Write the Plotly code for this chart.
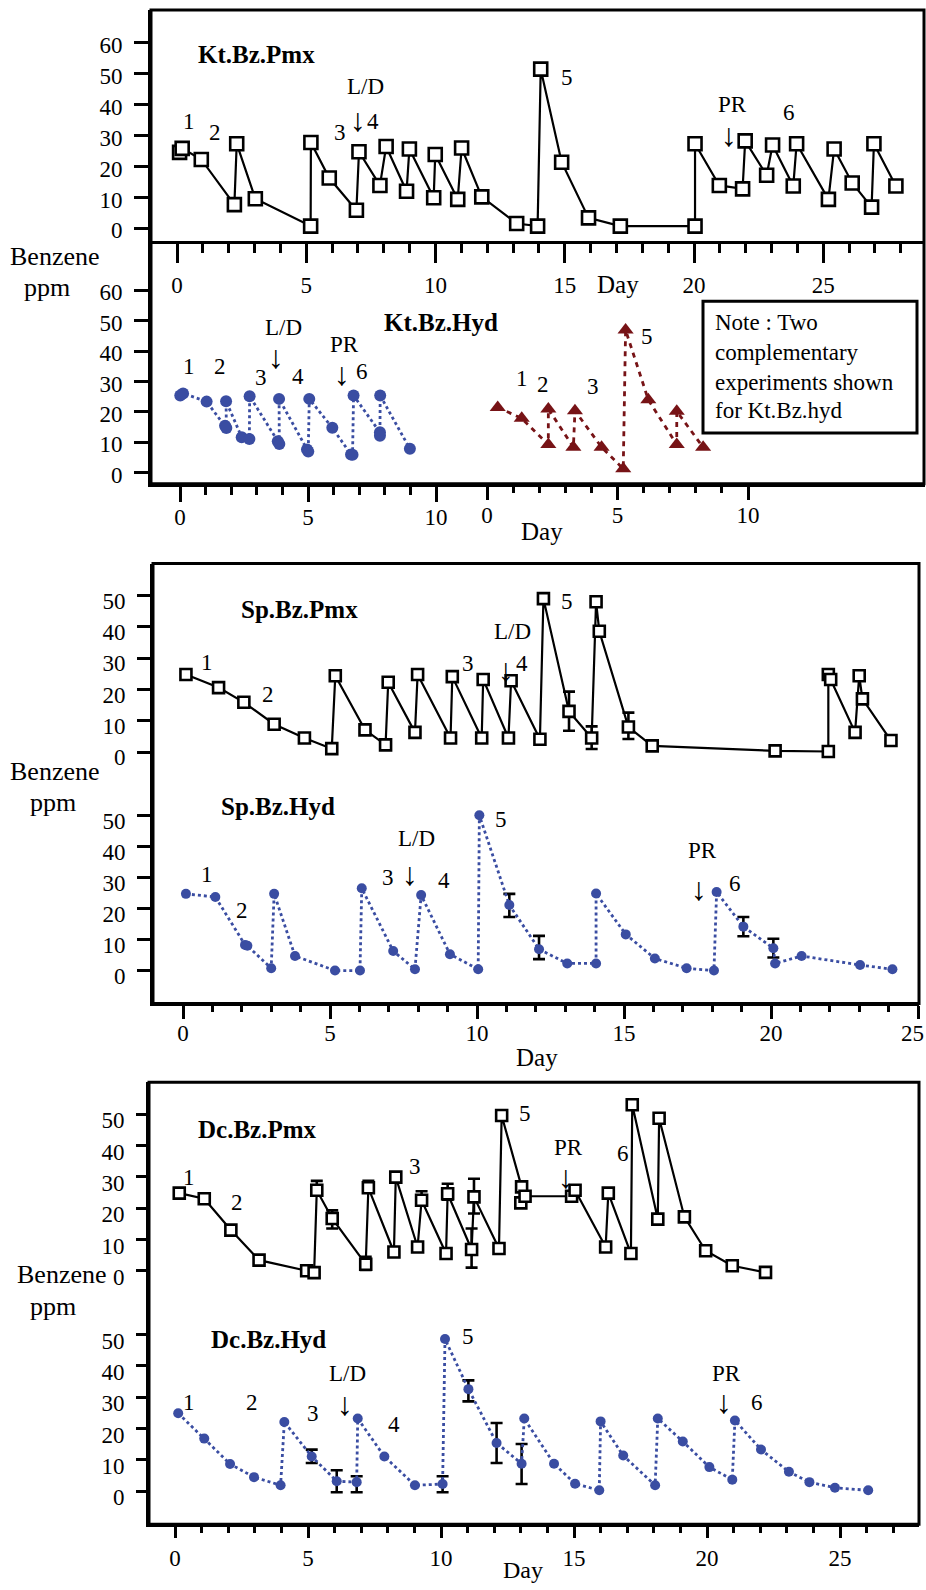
import plotly.graph_objects as go

# ---------------- data ----------------
kt_pmx_day = [0.1, 0.2, 0.94, 2.22, 2.31, 3.03, 5.17, 5.18, 5.89, 6.94, 7.04, 7.85, 8.09, 8.88, 8.99, 9.93, 9.99,
              10.86, 11.01, 11.79, 13.14, 13.95, 14.07, 14.88, 15.92, 17.15, 20.04, 20.04, 20.98, 21.88, 21.98,
              22.81, 23.04, 23.84, 23.97, 25.2, 25.42, 26.12, 26.87, 26.96, 27.81]
kt_pmx_ppm = [24.6, 25.9, 22.3, 7.7, 27.4, 9.6, 0.75, 27.8, 16.3, 5.9, 24.8, 13.9, 26.5, 12.0, 25.7, 9.9, 23.9,
              9.4, 26.0, 10.2, 1.6, 0.75, 51.5, 21.4, 3.4, 0.75, 0.75, 27.4, 13.9, 12.8, 28.3,
              17.2, 27.0, 13.7, 27.4, 9.4, 25.7, 14.7, 6.9, 27.4, 13.7]

kt_hyd_a_day = [0.01, 0.12, 1.04, 1.76, 1.81, 1.8, 2.41, 2.71, 2.72, 3.82, 3.88, 3.87, 4.96, 5.01, 5.05, 5.95,
                6.68, 6.74, 6.78, 7.81, 7.81, 7.82, 8.98]
kt_hyd_a_ppm = [25.4, 26.1, 23.4, 15.5, 14.7, 23.5, 11.7, 11.1, 25.2, 10.4, 9.5, 24.3, 7.7, 7.0, 24.3, 14.8,
                6.0, 5.9, 25.4, 13.3, 12.2, 25.4, 7.9]

kt_hyd_b_day = [0.41, 1.33, 2.35, 2.35, 3.31, 3.37, 4.39, 5.22, 5.31, 6.18, 7.27, 7.27, 8.28]
kt_hyd_b_ppm = [21.5, 17.9, 9.3, 21.0, 8.4, 20.4, 8.4, 1.3, 46.9, 24.0, 9.3, 20.2, 8.4]

sp_pmx_day = [0.10, 1.21, 2.07, 3.10, 4.13, 5.06, 5.18, 6.19, 6.89, 6.98, 7.89, 7.98, 9.10, 9.16, 10.16, 10.21,
              11.07, 11.16, 12.14, 12.26, 13.13, 13.90, 14.05, 14.16, 15.15, 15.96, 20.14, 21.95, 21.95, 22.03,
              22.86, 23.00, 23.11, 24.08]
sp_pmx_ppm = [24.8, 20.6, 15.9, 8.9, 4.5, 1.1, 24.4, 7.1, 2.3, 22.3, 6.3, 24.8, 4.5, 24.1, 4.5, 23.2,
              4.5, 22.8, 4.1, 49.0, 13.0, 4.5, 48.0, 38.6, 8.0, 2.0, 0.4, 0.2, 24.8, 23.2,
              6.3, 24.4, 17.0, 3.7]
sp_pmx_err_day = [13.13, 13.90, 15.15]
sp_pmx_err_val = [13.0, 4.5, 8.0]
sp_pmx_err_hi = [19.3, 8.2, 12.6]
sp_pmx_err_lo = [6.8, 1.0, 4.2]

sp_hyd_day = [0.10, 1.10, 2.11, 2.19, 3.00, 3.10, 3.81, 5.17, 6.02, 6.08, 7.15, 7.89, 8.10, 9.08, 10.04, 10.08,
              11.10, 12.11, 13.07, 14.05, 14.05, 15.06, 16.05, 17.13, 18.06, 18.15, 19.06, 20.08, 20.14, 21.04,
              23.03, 24.13]
sp_hyd_ppm = [24.8, 23.8, 8.3, 8.0, 0.75, 24.8, 4.7, 0.0, 0.0, 26.6, 6.3, 0.4, 24.4, 5.3, 0.4, 50.2,
              21.2, 6.9, 2.3, 2.3, 24.9, 11.7, 3.9, 0.75, 0.0, 25.4, 14.2, 7.2, 2.3, 4.7,
              1.8, 0.4]
sp_hyd_err_day = [11.10, 12.11, 19.06, 20.08]
sp_hyd_err_val = [21.2, 6.9, 14.2, 7.2]
sp_hyd_err_hi = [24.8, 11.2, 17.3, 10.3]
sp_hyd_err_lo = [17.3, 3.7, 11.1, 4.2]

dc_pmx_day = [0.16, 1.10, 2.10, 3.16, 4.95, 5.23, 5.33, 5.91, 7.17, 7.27, 8.23, 8.30, 9.12, 9.27, 10.19, 10.25,
              11.15, 11.24, 12.18, 12.28, 13.03, 13.00, 13.16, 14.91, 15.04, 16.19, 16.29, 17.14, 17.19, 18.15,
              18.20, 19.15, 19.95, 20.95, 22.20]
dc_pmx_ppm = [24.8, 23.0, 13.0, 3.4, 0.0, -0.6, 25.7, 16.7, 2.1, 26.5, 6.0, 29.9, 7.6, 22.5, 5.5, 24.6,
              6.8, 23.6, 7.1, 49.6, 26.8, 21.7, 23.8, 23.8, 25.7, 7.6, 24.8, 5.5, 53.0, 16.5,
              48.7, 17.2, 6.4, 1.6, -0.5]
dc_pmx_err_day = [5.33, 5.91, 7.17, 7.27, 9.27, 10.25, 11.15, 11.24]
dc_pmx_err_val = [25.7, 16.7, 2.1, 26.5, 22.5, 24.6, 6.8, 23.6]
dc_pmx_err_hi = [28.7, 19.3, 4.5, 28.7, 25.4, 27.8, 13.5, 29.4]
dc_pmx_err_lo = [24.0, 13.5, 0.3, 25.2, 21.0, 22.7, 1.0, 18.3]

dc_hyd_day = [0.12, 1.10, 2.07, 2.97, 3.97, 4.11, 5.14, 6.08, 6.83, 6.87, 7.87, 9.02, 10.06, 10.15, 11.03,
              12.09, 13.03, 13.13, 14.25, 15.04, 15.95, 16.00, 16.85, 18.05, 18.15, 19.09, 20.09, 20.95, 21.05,
              22.03, 23.08, 23.85, 24.81, 26.06]
dc_hyd_ppm = [24.9, 16.8, 8.7, 4.5, 1.9, 22.1, 11.1, 3.2, 2.9, 23.2, 11.1, 1.9, 2.3, 48.6, 32.6,
              15.4, 8.8, 23.2, 8.8, 2.4, 0.3, 22.3, 11.4, 1.9, 23.2, 15.9, 7.7, 3.7, 22.6,
              13.3, 6.2, 2.9, 1.1, 0.3]
dc_hyd_err_day = [5.14, 6.08, 6.83, 10.06, 11.03, 12.09, 13.03]
dc_hyd_err_val = [11.1, 3.2, 2.9, 2.3, 32.6, 15.4, 8.8]
dc_hyd_err_hi = [13.3, 6.7, 4.8, 4.8, 35.4, 21.8, 15.1]
dc_hyd_err_lo = [9.0, -0.3, -0.3, -0.3, 28.7, 9.0, 2.3]

# ---------------- layout helpers ----------------
W, H = 926, 1590
FONT = "Liberation Serif, Times New Roman, serif"
BLUE = "#3a4da2"
DRED = "#771316"


def X(px):
    return px / W


def Y(py):
    return 1 - py / H


fig = go.Figure()


def pmx_trace(days, vals, xa, ya, size):
    fig.add_trace(go.Scatter(
        x=days, y=vals, xaxis=xa, yaxis=ya, mode="lines+markers",
        line=dict(color="black", width=2.2),
        marker=dict(symbol="square", size=size, color="white", line=dict(color="black", width=2.6)),
        showlegend=False, cliponaxis=False))


def hyd_trace(days, vals, xa, ya, size, color=BLUE, symbol="circle", dash="dot"):
    fig.add_trace(go.Scatter(
        x=days, y=vals, xaxis=xa, yaxis=ya, mode="lines+markers",
        line=dict(color=color, width=2.8, dash=dash),
        marker=dict(symbol=symbol, size=size, color=color),
        showlegend=False, cliponaxis=False))


def err_trace(days, vals, hi, lo, xa, ya):
    fig.add_trace(go.Scatter(
        x=days, y=vals, xaxis=xa, yaxis=ya, mode="markers",
        marker=dict(size=1, color="rgba(0,0,0,0)"),
        error_y=dict(type="data", symmetric=False,
                     array=[h - v for h, v in zip(hi, vals)],
                     arrayminus=[v - l for v, l in zip(vals, lo)],
                     color="black", thickness=2.6, width=6),
        showlegend=False, cliponaxis=False))


# Panel 1
pmx_trace(kt_pmx_day, kt_pmx_ppm, "x", "y", 13)
hyd_trace(kt_hyd_a_day, kt_hyd_a_ppm, "x2", "y2", 12)
hyd_trace(kt_hyd_b_day, kt_hyd_b_ppm, "x3", "y2", 14, color=DRED, symbol="triangle-up", dash="5px,5px")
# Panel 2
err_trace(sp_pmx_err_day, sp_pmx_err_val, sp_pmx_err_hi, sp_pmx_err_lo, "x4", "y4")
pmx_trace(sp_pmx_day, sp_pmx_ppm, "x4", "y4", 11)
err_trace(sp_hyd_err_day, sp_hyd_err_val, sp_hyd_err_hi, sp_hyd_err_lo, "x4", "y5")
hyd_trace(sp_hyd_day, sp_hyd_ppm, "x4", "y5", 10)
# Panel 3
err_trace(dc_pmx_err_day, dc_pmx_err_val, dc_pmx_err_hi, dc_pmx_err_lo, "x5", "y6")
pmx_trace(dc_pmx_day, dc_pmx_ppm, "x5", "y6", 11)
err_trace(dc_hyd_err_day, dc_hyd_err_val, dc_hyd_err_hi, dc_hyd_err_lo, "x5", "y7")
hyd_trace(dc_hyd_day, dc_hyd_ppm, "x5", "y7", 10)

tickfont = dict(family=FONT, size=23, color="black")


def xax(domain, rng, anchor, major, minor, tlen, mlen, standoff, showline=True, overlaying=None):
    d = dict(domain=domain, range=rng, anchor=anchor, showgrid=False, zeroline=False,
             showline=showline, linecolor="black", linewidth=3,
             ticks="outside", ticklen=tlen, tickwidth=3, tickcolor="black",
             tickmode="array", tickvals=major, ticktext=[str(v) for v in major],
             tickfont=tickfont, ticklabelstandoff=standoff,
             minor=dict(tickmode="array", tickvals=minor, ticks="outside", ticklen=mlen,
                        tickwidth=3, tickcolor="black", showgrid=False),
             fixedrange=True)
    if overlaying:
        d["overlaying"] = overlaying
    return d


def yax(domain, rng, anchor, vals, tlen=13, shift=0):
    return dict(domain=domain, range=rng, anchor=anchor, showgrid=False, zeroline=False,
                showline=True, linecolor="black", linewidth=3,
                ticks="outside", ticklen=tlen, tickwidth=3, tickcolor="black",
                tickmode="array", tickvals=vals, ticktext=[str(v) for v in vals],
                tickfont=tickfont, ticklabelstandoff=7, ticklabelshift=shift, fixedrange=True)


fig.update_layout(
    xaxis=xax([X(151), X(924)], [(151 - 177) / 25.85, (924 - 177) / 25.85], "y",
              [0, 5, 10, 15, 20, 25], list(range(0, 29)), 19, 9, 2),
    yaxis=yax([Y(242), Y(10)], [-(242 - 229) / 3.1, (229 - 10) / 3.1], "x", [0, 10, 20, 30, 40, 50, 60], 14, 2),
    xaxis2=xax([X(151), X(925)], [(151 - 180) / 25.6, (925 - 180) / 25.6], "y2",
               [0, 5, 10], list(range(0, 11)), 15, 8, -4),
    xaxis3=xax([X(151), X(925)], [(151 - 487) / 26.1, (925 - 487) / 26.1], "y2",
               [0, 5, 10], list(range(0, 11)), 15, 8, -4, showline=False, overlaying="x2"),
    yaxis2=yax([Y(485), Y(242)], [-(485 - 474) / 3.05, (474 - 242) / 3.05], "x2", [0, 10, 20, 30, 40, 50, 60], 14, 2),
    xaxis4=xax([X(153), X(919)], [(153 - 183) / 29.4, (919 - 183) / 29.4], "y5",
               [0, 5, 10, 15, 20, 25], list(range(0, 26)), 13, 6, -6),
    yaxis4=yax([Y(785), Y(565)], [-(785 - 754) / 3.14, (754 - 565) / 3.14], "x4", [0, 10, 20, 30, 40, 50], 13, 5),
    yaxis5=yax([Y(1006), Y(785)], [-(1006 - 973) / 3.1, (973 - 785) / 3.1], "x4", [0, 10, 20, 30, 40, 50], 13, 5),
    xaxis5=xax([X(149), X(919)], [(149 - 175) / 26.6, (919 - 175) / 26.6], "y7",
               [0, 5, 10, 15, 20, 25], list(range(0, 28)), 11, 6, 0),
    yaxis6=yax([Y(1300), Y(1085)], [-(1300 - 1274) / 3.14, (1274 - 1085) / 3.14], "x5", [0, 10, 20, 30, 40, 50], 10, 6),
    yaxis7=yax([Y(1528), Y(1300)], [-(1528 - 1495) / 3.14, (1495 - 1300) / 3.14], "x5", [0, 10, 20, 30, 40, 50], 10, 6),
)

# frames
frames = [(151, 10, 924, 485), (153, 565, 919, 1006), (149, 1085, 919, 1528), (703, 302, 917, 434)]
shapes = []
for (x0, y0, x1, y1) in frames:
    shapes.append(dict(type="rect", xref="paper", yref="paper", x0=X(x0), x1=X(x1), y0=Y(y0), y1=Y(y1),
                       line=dict(color="black", width=3), fillcolor="rgba(0,0,0,0)", layer="above"))

ARW = 32  # arrow glyph size
# text labels: (text, x_px, y_px, size, bold, anchor)
labels = [
    # panel 1
    ("Kt.Bz.Pmx", 256, 55, 25, True, "center"),
    ("1", 189, 122, 23, False, "center"), ("2", 215, 133, 23, False, "center"),
    ("3", 340, 133, 23, False, "center"), ("L/D", 365, 87, 23, False, "center"),
    ("↓", 358, 120, ARW, False, "center"), ("4", 373, 122, 23, False, "center"),
    ("5", 567, 78, 23, False, "center"),
    ("PR", 732, 105, 23, False, "center"), ("↓", 729, 135, ARW, False, "center"),
    ("6", 789, 113, 23, False, "center"),
    ("Benzene", 55, 257, 26, False, "center"), ("ppm", 47, 288, 26, False, "center"),
    ("Day", 618, 285, 25, False, "center"),
    ("Kt.Bz.Hyd", 441, 323, 25, True, "center"),
    ("1", 189, 367, 23, False, "center"), ("2", 220, 367, 23, False, "center"),
    ("L/D", 283, 328, 23, False, "center"), ("↓", 276, 358, ARW, False, "center"),
    ("3", 261, 378, 23, False, "center"), ("4", 298, 377, 23, False, "center"),
    ("PR", 344, 345, 23, False, "center"), ("↓", 342, 375, ARW, False, "center"),
    ("6", 362, 372, 23, False, "center"),
    ("1", 522, 379, 23, False, "center"), ("2", 543, 385, 23, False, "center"),
    ("3", 593, 387, 23, False, "center"), ("5", 647, 337, 23, False, "center"),
    ("Day", 542, 533, 25, False, "center"),
    ("Note : Two", 713, 323, 23, False, "left"), ("complementary", 713, 353, 23, False, "left"),
    ("experiments shown", 713, 383, 23, False, "left"), ("for Kt.Bz.hyd", 713, 412, 23, False, "left"),
    # panel 2
    ("Sp.Bz.Pmx", 299, 611, 25, True, "center"),
    ("1", 207, 664, 23, False, "center"), ("2", 268, 696, 23, False, "center"),
    ("3", 468, 665, 23, False, "center"), ("L/D", 512, 633, 23, False, "center"),
    ("↓", 506, 672, ARW, False, "center"), ("4", 522, 665, 23, False, "center"),
    ("5", 567, 603, 23, False, "center"),
    ("Benzene", 55, 773, 26, False, "center"), ("ppm", 53, 805, 26, False, "center"),
    ("Sp.Bz.Hyd", 278, 809, 25, True, "center"),
    ("1", 207, 877, 23, False, "center"), ("2", 242, 913, 23, False, "center"),
    ("L/D", 416, 841, 23, False, "center"), ("3", 388, 880, 23, False, "center"),
    ("↓", 410, 876, ARW, False, "center"), ("4", 444, 883, 23, False, "center"),
    ("5", 501, 822, 23, False, "center"), ("PR", 702, 853, 23, False, "center"),
    ("↓", 699, 891, ARW, False, "center"), ("6", 735, 886, 23, False, "center"),
    ("Day", 537, 1060, 25, False, "center"),
    ("25", 926, 1036, 23, False, "right"),
    # panel 3
    ("Dc.Bz.Pmx", 257, 1132, 25, True, "center"),
    ("1", 189, 1180, 23, False, "center"), ("2", 237, 1206, 23, False, "center"),
    ("3", 415, 1169, 23, False, "center"), ("5", 525, 1116, 23, False, "center"),
    ("PR", 568, 1150, 23, False, "center"), ("↓", 566, 1180, ARW, False, "center"),
    ("6", 623, 1156, 23, False, "center"),
    ("Benzene", 62, 1278, 26, False, "center"), ("ppm", 53, 1310, 26, False, "center"),
    ("Dc.Bz.Hyd", 268, 1343, 25, True, "center"),
    ("1", 189, 1406, 23, False, "center"), ("2", 252, 1406, 23, False, "center"),
    ("3", 313, 1417, 23, False, "center"), ("L/D", 347, 1377, 23, False, "center"),
    ("↓", 345, 1408, ARW, False, "center"), ("4", 394, 1428, 23, False, "center"),
    ("5", 468, 1340, 23, False, "center"), ("PR", 726, 1377, 23, False, "center"),
    ("↓", 724, 1406, ARW, False, "center"), ("6", 757, 1406, 23, False, "center"),
    ("Day", 523, 1574, 24, False, "center"),
]
annotations = []
for text, x, y, size, bold, anchor in labels:
    annotations.append(dict(
        text=f"<b>{text}</b>" if bold else text, x=X(x), y=Y(y), xref="paper", yref="paper",
        xanchor=anchor, yanchor="middle", showarrow=False,
        font=dict(family=FONT, size=size, color="black")))

fig.update_layout(
    width=W, height=H, autosize=False,
    margin=dict(l=0, r=0, t=0, b=0),
    paper_bgcolor="white", plot_bgcolor="white",
    shapes=shapes, annotations=annotations, showlegend=False,
)

fig.write_html("out.html", config={"displayModeBar": False, "staticPlot": True},
               post_script="document.body.style.margin='0';document.body.style.overflow='hidden';")
